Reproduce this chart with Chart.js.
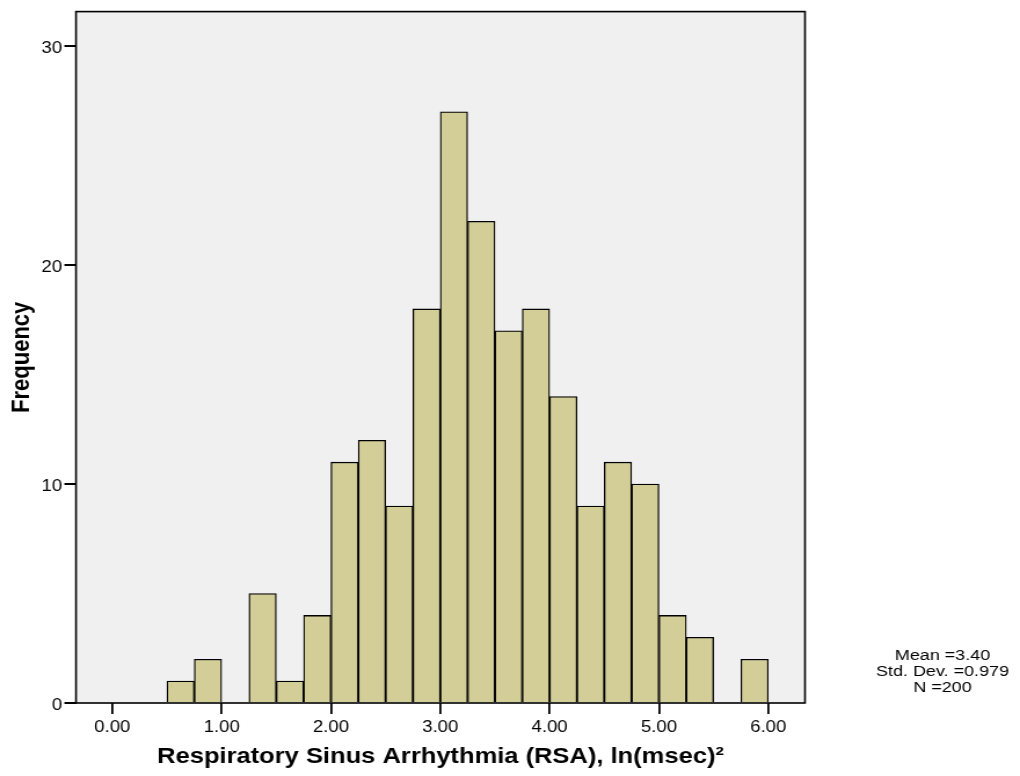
<!DOCTYPE html>
<html>
<head>
<meta charset="utf-8">
<script src="https://cdn.jsdelivr.net/npm/chart.js@4.4.0/dist/chart.umd.min.js"></script>
<style>
  html, body { margin: 0; padding: 0; background: #ffffff; }
</style>
</head>
<body>
<!-- the chart is drawn narrower and stretched wide, like the exported SPSS graph -->
<canvas id="histograma" width="880" height="776" style="display:block;width:1020px;height:776px;"></canvas>
<script>
// frecuencias por intervalo, intervalos de 0.25 desde 0.50 hasta 6.00
const inicioIntervalo = 0.5;
const anchoIntervalo = 0.25;
const frecuencias = [1, 2, 0, 5, 1, 4, 11, 12, 9, 18, 27, 22, 17, 18, 14, 9, 11, 10, 4, 3, 0, 2];

const marcasX = [0, 1, 2, 3, 4, 5, 6];
const marcasY = [0, 10, 20, 30];

const estadisticos = ['Mean =3.40', 'Std. Dev. =0.979', 'N =200'];

const tituloX = 'Respiratory Sinus Arrhythmia (RSA), ln(msec)\u00b2';
const tituloY = 'Frequency';

const FUENTE = '"Liberation Sans", Arial, Helvetica, sans-serif';
const ESCALA = 1020 / 880;   // estiramiento horizontal del canvas

// punto medio de cada intervalo para la escala lineal
const puntos = frecuencias.map((f, i) => ({ x: inicioIntervalo + (i + 0.5) * anchoIntervalo, y: f }));

// fondo gris del área de la gráfica y marco negro
const marcoArea = {
  id: 'marcoArea',
  beforeDatasetsDraw(chart) {
    const { ctx, chartArea: a } = chart;
    ctx.save();
    ctx.fillStyle = '#f0f0f0';
    ctx.fillRect(a.left, a.top, a.right - a.left, a.bottom - a.top);
    ctx.restore();
  },
  afterDatasetsDraw(chart) {
    const { ctx, chartArea: a } = chart;
    ctx.save();
    ctx.strokeStyle = '#000000';
    ctx.lineWidth = 1.6;
    ctx.strokeRect(a.left, a.top, a.right - a.left, a.bottom - a.top);
    ctx.restore();
  }
};

// cuadro de estadísticos a la derecha
const cuadroEstadisticos = {
  id: 'cuadroEstadisticos',
  afterDraw(chart) {
    const ctx = chart.ctx;
    ctx.save();
    ctx.font = '15.5px ' + FUENTE;
    ctx.fillStyle = '#000000';
    ctx.textAlign = 'center';
    ctx.textBaseline = 'alphabetic';
    const cx = 942.5 / ESCALA;
    estadisticos.forEach((t, i) => ctx.fillText(t, cx, 659.5 + i * 16.3));
    ctx.restore();
  }
};

const ctx = document.getElementById('histograma').getContext('2d');

Chart.defaults.font.family = FUENTE;
Chart.defaults.color = '#000000';

new Chart(ctx, {
  type: 'bar',
  data: {
    datasets: [{
      label: tituloY,
      data: puntos,
      backgroundColor: '#d3ce97',
      borderColor: '#000000',
      borderWidth: 1.3,
      barPercentage: 1,
      categoryPercentage: 1
    }]
  },
  options: {
    responsive: false,
    animation: false,
    devicePixelRatio: 1,
    layout: { padding: { top: 8, right: 880 - 805 / ESCALA, bottom: 0, left: 0 } },
    plugins: {
      legend: { display: false },
      tooltip: { enabled: false }
    },
    scales: {
      x: {
        type: 'linear',
        min: -0.332,
        max: 6.336,
        offset: false,
        afterBuildTicks: (eje) => { eje.ticks = marcasX.map(v => ({ value: v })); },
        afterFit: (eje) => { eje.height = 73; },
        border: { display: false },
        grid: { offset: false, drawOnChartArea: false, drawTicks: true, tickLength: 11, color: '#000000', lineWidth: 1.8 },
        ticks: {
          padding: 4,
          font: { size: 16 },
          maxRotation: 0,
          callback: (v) => v.toFixed(2)
        },
        title: {
          display: true,
          text: tituloX,
          font: { size: 22, weight: 'bold' },
          padding: { top: 0, bottom: 6 }
        }
      },
      y: {
        min: 0,
        max: 31.58,
        afterBuildTicks: (eje) => { eje.ticks = marcasY.map(v => ({ value: v })); },
        afterFit: (eje) => { eje.width = 76 / ESCALA; },
        border: { display: false },
        grid: { drawOnChartArea: false, drawTicks: true, tickLength: 10, color: '#000000', lineWidth: 2 },
        ticks: {
          padding: 2,
          labelOffset: 2.5,
          font: { size: 16 }
        },
        title: {
          display: true,
          text: tituloY,
          font: { size: 22, weight: 'bold' },
          padding: { top: 6, bottom: 0 }
        }
      }
    }
  },
  plugins: [marcoArea, cuadroEstadisticos]
});
</script>
</body>
</html>
